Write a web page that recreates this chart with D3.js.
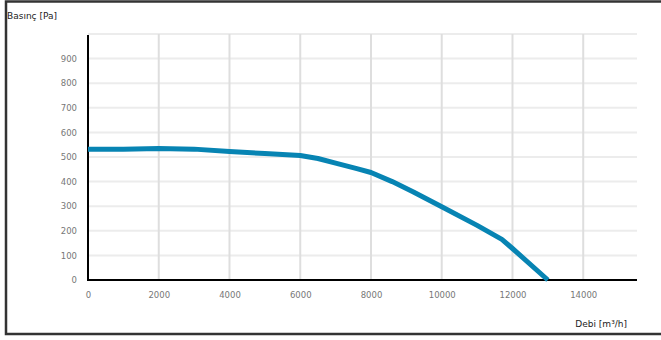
<!DOCTYPE html>
<html>
<head>
<meta charset="utf-8">
<script src="https://cdn.jsdelivr.net/npm/d3@7"></script>
<style>
html,body{margin:0;padding:0;background:#fff;}
svg{display:block;}
</style>
</head>
<body>
<svg id="chart" width="661" height="340"></svg>
<script>
const flow = [0, 1000, 2000, 3000, 4000, 5000, 6000, 6500, 7000, 7600, 8000, 8600, 9200, 10000, 11000, 11700, 12000, 13000];
const pressure = [532, 532, 535, 532, 522, 514, 506, 494, 475, 453, 437, 400, 358, 298, 222, 165, 128, 0];
const xTicks = [0, 2000, 4000, 6000, 8000, 10000, 12000, 14000];
const yTicks = [0, 100, 200, 300, 400, 500, 600, 700, 800, 900];
const yGrid = [100, 200, 300, 400, 500, 600, 700, 800, 900, 1000];
const xTitle = "Debi [m³/h]";
const yTitle = "Basınç [Pa]";

const svg = d3.select("#chart");
const x = d3.scaleLinear().domain([0, 15520]).range([88, 637]);
const y = d3.scaleLinear().domain([0, 1000]).range([280, 34]);

// frame
svg.append("rect").attr("x", 6).attr("y", 1.5).attr("width", 700).attr("height", 332.5)
  .attr("fill", "none").attr("stroke", "#333").attr("stroke-width", 2.5);

// horizontal grid
svg.append("g").selectAll("line").data(yGrid).join("line")
  .attr("x1", x(0)).attr("x2", x.range()[1])
  .attr("y1", d => y(d)).attr("y2", d => y(d))
  .attr("stroke", "#ececec").attr("stroke-width", 2);

// vertical grid
svg.append("g").selectAll("line").data(xTicks.filter(d => d > 0)).join("line")
  .attr("x1", d => x(d)).attr("x2", d => x(d))
  .attr("y1", y(1000)).attr("y2", y(0))
  .attr("stroke", "#dedede").attr("stroke-width", 2);

// axes
const xAxis = d3.axisBottom(x).tickValues(xTicks).tickSize(0).tickPadding(12).tickFormat(d3.format("d"));
const gx = svg.append("g").attr("transform", `translate(0,${y(0)})`).call(xAxis);
gx.select(".domain").remove();
gx.selectAll("text").attr("fill", "#777").style("font-family", "DejaVu Sans, Verdana, sans-serif").style("font-size", "8.5px");

const yAxis = d3.axisLeft(y).tickValues(yTicks).tickSize(0).tickPadding(11).tickFormat(d3.format("d"));
const gy = svg.append("g").attr("transform", `translate(${x(0)},0)`).call(yAxis);
gy.select(".domain").remove();
gy.selectAll("text").attr("fill", "#777").style("font-family", "DejaVu Sans, Verdana, sans-serif").style("font-size", "8.5px");

// axis lines
svg.append("line").attr("x1", x(0)).attr("x2", x(0)).attr("y1", 35).attr("y2", y(0) + 1)
  .attr("stroke", "#000").attr("stroke-width", 2);
svg.append("line").attr("x1", x(0) - 1).attr("x2", x.range()[1]).attr("y1", y(0)).attr("y2", y(0))
  .attr("stroke", "#000").attr("stroke-width", 2);

// curve
const pts = flow.map((f, i) => [f, pressure[i]]);
const line = d3.line().x(d => x(d[0])).y(d => y(d[1])).curve(d3.curveLinear);
svg.append("path").datum(pts).attr("d", line)
  .attr("fill", "none").attr("stroke", "#0784b3").attr("stroke-width", 5)
  .attr("stroke-linejoin", "round");

// titles
svg.append("text").attr("x", 7).attr("y", 19).text(yTitle)
  .attr("fill", "#222").style("font-family", "DejaVu Sans, Verdana, sans-serif").style("font-size", "9px");
svg.append("text").attr("x", 627).attr("y", 327).attr("text-anchor", "end").text(xTitle)
  .attr("fill", "#222").style("font-family", "DejaVu Sans, Verdana, sans-serif").style("font-size", "9px");
</script>
</body>
</html>
